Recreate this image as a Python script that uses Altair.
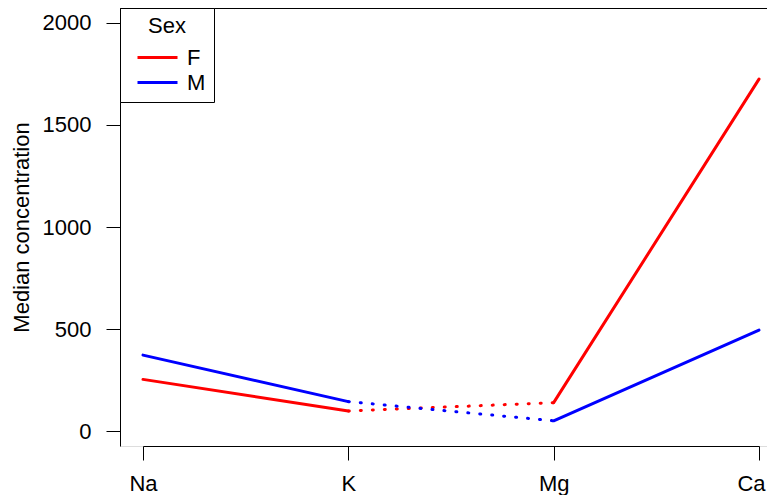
import altair as alt
import pandas as pd

elements = ["Na", "K", "Mg", "Ca"]
sexes = ["F", "M"]
f_values = [253, 98, 139, 1725]
m_values = [372, 144, 50, 495]
# segment between consecutive elements: solid / dotted / solid
segment_styles = ["solid", "dotted", "solid"]
y_ticks = [0, 500, 1000, 1500, 2000]

rows = []
for sex, vals in zip(sexes, [f_values, m_values]):
    for s, style in enumerate(segment_styles):
        for k in (s, s + 1):
            rows.append({"element": elements[k], "value": vals[k], "Sex": sex,
                         "seg": f"{sex}{s}", "style": style})
df = pd.DataFrame(rows)

FONT = "Liberation Sans"
VIEW_W = 647

# keep the last label inside the page
is_last = f"datum.label == '{elements[-1]}'"

x_enc = alt.X("element:N", sort=elements,
              scale=alt.Scale(type="point", range=[23, 639], padding=0),
              axis=alt.Axis(title=None, labelAngle=0, tickSize=14, labelPadding=30,
                            labelBaseline="alphabetic",
                            labelAlign={"condition": {"test": is_last, "value": "right"},
                                        "value": "center"},
                            labelOffset={"condition": {"test": is_last, "value": 6},
                                         "value": 0},
                            labelFontSize=22, labelFont=FONT, labelColor="black",
                            domainColor="black", tickColor="black", grid=False))
y_enc = alt.Y("value:Q",
              scale=alt.Scale(domain=[-73.5, 2073.5], nice=False, zero=False),
              axis=alt.Axis(title="Median concentration", values=y_ticks, format="d",
                            tickSize=14, labelPadding=15, labelFontSize=22, labelFont=FONT,
                            labelColor="black", titleFontSize=22, titleFont=FONT,
                            titleFontWeight="normal", titleColor="black", titlePadding=9,
                            domainColor="black", tickColor="black", grid=False))
color_enc = alt.Color("Sex:N", scale=alt.Scale(domain=sexes, range=["#ff0000", "#0000ff"]),
                      legend=alt.Legend(title="Sex", orient="none", legendX=0, legendY=0,
                                        strokeColor="black", fillColor="white", padding=8,
                                        titleFontSize=22, titleFont=FONT, titleFontWeight="normal",
                                        titleColor="black", titleAnchor="middle", titlePadding=8,
                                        labelFontSize=22, labelFont=FONT, labelColor="black",
                                        symbolType="M-2,0H2", symbolSize=400, symbolStrokeWidth=3,
                                        symbolOffset=18, labelOffset=18, rowPadding=2,
                                        cornerRadius=0))

solid = alt.Chart(df).transform_filter(alt.datum.style == "solid").mark_line(
    strokeWidth=3, strokeCap="round", clip=True
).encode(x=x_enc, y=y_enc, color=color_enc, detail="seg:N")

dotted = alt.Chart(df).transform_filter(alt.datum.style == "dotted").mark_line(
    strokeWidth=3, strokeCap="round", strokeDash=[1, 11], clip=True
).encode(x=x_enc, y=y_enc, color=alt.Color("Sex:N", legend=None), detail="seg:N")

top_border = alt.Chart(df).mark_rule(color="black", strokeWidth=1).encode(
    x=alt.value(0), x2=alt.value(VIEW_W), y=alt.value(0.5))

chart = alt.layer(solid, dotted, top_border).properties(
    width=VIEW_W, height=438,
    autosize=alt.AutoSizeParams(type="none"),
    padding={"left": 112, "top": 0, "right": 0, "bottom": 49},
).configure_view(stroke=None).configure(background="white")

chart.save("out.html", embed_options={"renderer": "svg", "actions": False})
